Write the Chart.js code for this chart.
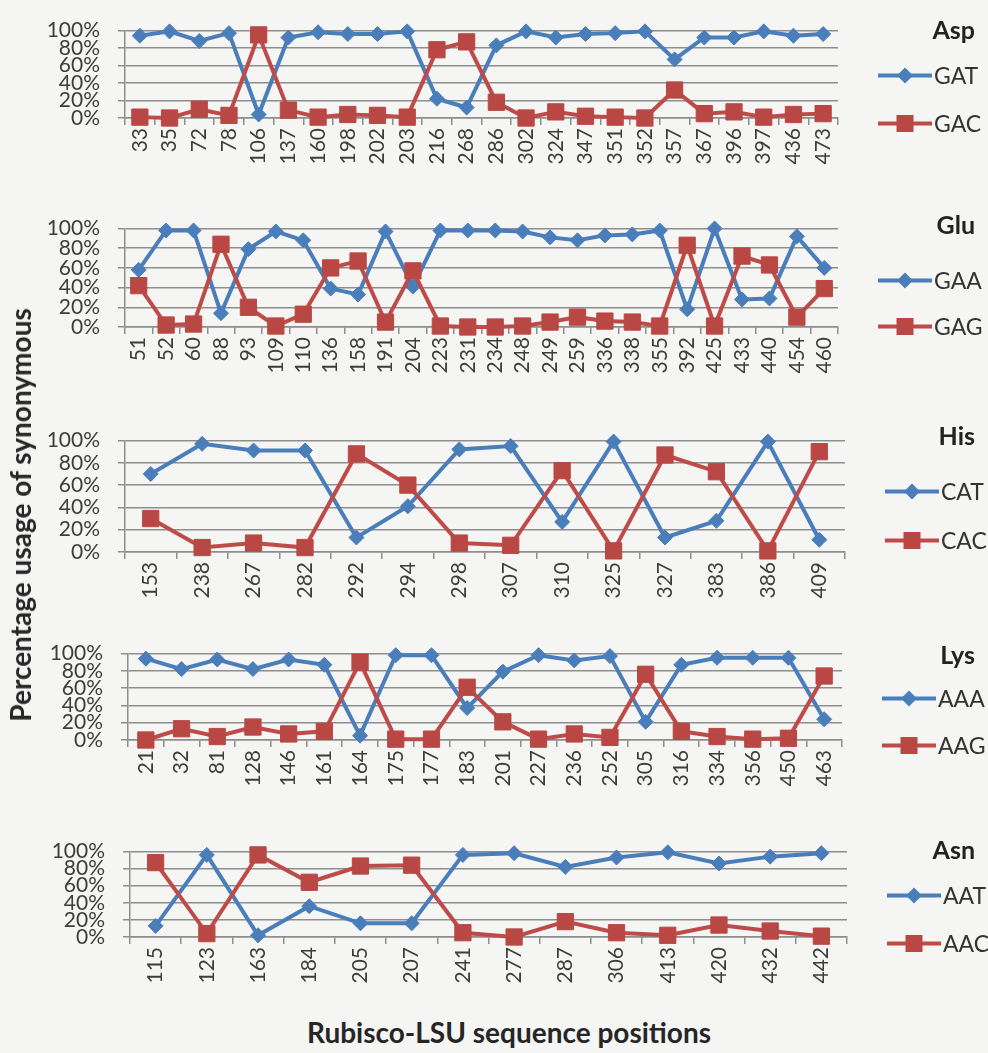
<!DOCTYPE html>
<html>
<head>
<meta charset="utf-8">
<script src="https://cdn.jsdelivr.net/npm/chart.js@4.4.1/dist/chart.umd.min.js"></script>
<style>
  html, body { margin: 0; padding: 0; background: #f5f5f4; }
  #page { position: relative; width: 988px; height: 1053px; overflow: hidden; background: #f5f5f4; }
  canvas { position: absolute; left: 0; }
  .axis-title { position: absolute; font-family: Lato, "Open Sans", sans-serif; font-weight: bold; font-size: 28px; color: #262626; white-space: nowrap; }
  #ytitle { left: 20px; top: 515px; transform: translate(-50%, -50%) rotate(-90deg); }
  #xtitle { left: 509px; top: 1032px; transform: translate(-50%, -50%); }
</style>
</head>
<body>
<div id="page">
  <canvas id="c-asp"></canvas>
  <canvas id="c-glu"></canvas>
  <canvas id="c-his"></canvas>
  <canvas id="c-lys"></canvas>
  <canvas id="c-asn"></canvas>
  <div class="axis-title" id="ytitle">Percentage usage of synonymous</div>
  <div class="axis-title" id="xtitle">Rubisco-LSU sequence positions</div>
</div>
<script>
// Rubisco-LSU residue positions and synonymous codon usage (%)
const aspPositions = ['33','35','72','78','106','137','160','198','202','203','216','268','286','302','324','347','351','352','357','367','396','397','436','473'];
const gatUsage = [94,99,88,97,4,92,98,96,96,99,22,12,83,99,92,96,97,99,67,92,92,99,94,96];
const gacUsage = [1,0,10,3,95,9,1,4,3,1,78,87,18,0,7,2,1,0,32,5,7,1,4,5];

const gluPositions = ['51','52','60','88','93','109','110','136','158','191','204','223','231','234','248','249','259','336','338','355','392','425','433','440','454','460'];
const gaaUsage = [58,98,98,14,79,97,88,39,33,97,41,98,98,98,97,91,88,93,94,98,18,100,28,29,92,60];
const gagUsage = [42,2,3,84,20,1,13,60,67,5,57,1,0,0,1,5,10,6,5,1,83,1,72,63,10,39];

const hisPositions = ['153','238','267','282','292','294','298','307','310','325','327','383','386','409'];
const catUsage = [70,97,91,91,13,41,92,95,27,99,13,28,99,11];
const cacUsage = [30,4,8,4,88,60,8,6,73,1,87,72,1,90];

const lysPositions = ['21','32','81','128','146','161','164','175','177','183','201','227','236','252','305','316','334','356','450','463'];
const aaaUsage = [94,82,93,82,93,87,5,98,98,37,79,98,92,97,21,87,95,95,95,24];
const aagUsage = [0,13,4,15,7,10,90,1,1,61,21,1,7,3,76,10,4,1,2,74];

const asnPositions = ['115','123','163','184','205','207','241','277','287','306','413','420','432','442'];
const aatUsage = [13,96,2,36,16,16,96,98,82,93,99,86,94,98];
const aacUsage = [87,4,96,64,83,84,5,0,18,5,2,14,7,1];

const percentTicks = [0, 20, 40, 60, 80, 100];

// Styling
const BLUE_LINE = '#4a7ebb', BLUE_FILL = '#4a7ebb';
const RED_LINE = '#be4b48', RED_FILL = '#b94845';
const GRID = '#8e8e8e';
const TICK_COLOR = '#3d3d3d';
const FONT_FAMILY = 'Lato, "Open Sans", sans-serif';

// Draws the per-panel legend (amino acid name + codon line/marker swatches)
const codonLegend = {
  id: 'codonLegend',
  afterDraw(chart, args, opts) {
    const { ctx, chartArea } = chart;
    ctx.save();
    ctx.textBaseline = 'middle';
    ctx.font = 'bold 25px ' + FONT_FAMILY;
    ctx.fillStyle = '#222';
    ctx.textAlign = 'right';
    ctx.fillText(opts.title, 975, chartArea.top + opts.rows[0]);
    ctx.font = '23px ' + FONT_FAMILY;
    ctx.textAlign = 'left';
    chart.data.datasets.forEach((ds, i) => {
      const y = chartArea.top + opts.rows[i + 1];
      const x0 = chartArea.right + 40;
      const x1 = x0 + 54;
      const xm = (x0 + x1) / 2;
      ctx.strokeStyle = ds.borderColor;
      ctx.lineWidth = 4;
      ctx.beginPath();
      ctx.moveTo(x0, y);
      ctx.lineTo(x1, y);
      ctx.stroke();
      ctx.fillStyle = ds.pointBackgroundColor;
      ctx.beginPath();
      if (ds.pointStyle === 'rectRot') {
        const r = 8;
        ctx.moveTo(xm - r, y); ctx.lineTo(xm, y - r); ctx.lineTo(xm + r, y); ctx.lineTo(xm, y + r);
      } else {
        const h = 8.5;
        ctx.rect(xm - h, y - h, 2 * h, 2 * h);
      }
      ctx.closePath();
      ctx.fill();
      ctx.fillStyle = '#333';
      ctx.fillText(ds.label, x1 + 2, y + 1);
    });
    ctx.restore();
  }
};

const panels = [
  { canvas: 'c-asp', title: 'Asp', labels: aspPositions, names: ['GAT', 'GAC'], values: [gatUsage, gacUsage],
    top: 22, bottom: 118, left: 125, right: 838, rows: [0, 45, 93] },
  { canvas: 'c-glu', title: 'Glu', labels: gluPositions, names: ['GAA', 'GAG'], values: [gaaUsage, gagUsage],
    top: 220, bottom: 327, left: 125, right: 838, rows: [-3, 52, 98] },
  { canvas: 'c-his', title: 'His', labels: hisPositions, names: ['CAT', 'CAC'], values: [catUsage, cacUsage],
    top: 432, bottom: 552, left: 125, right: 845, rows: [-4, 51, 100] },
  { canvas: 'c-lys', title: 'Lys', labels: lysPositions, names: ['AAA', 'AAG'], values: [aaaUsage, aagUsage],
    top: 645, bottom: 740, left: 128, right: 842, rows: [2, 45, 92] },
  { canvas: 'c-asn', title: 'Asn', labels: asnPositions, names: ['AAT', 'AAC'], values: [aatUsage, aacUsage],
    top: 843, bottom: 937, left: 130, right: 847, rows: [-1, 44, 92] }
];

const PAD_TOP = 20;
const X_AXIS_H = 62;

panels.forEach(p => {
  const cv = document.getElementById(p.canvas);
  const canvasTop = p.top - PAD_TOP;
  cv.width = 988;
  cv.height = (p.bottom - canvasTop) + X_AXIS_H;
  cv.style.top = canvasTop + 'px';
  cv.style.width = '988px';
  cv.style.height = cv.height + 'px';

  new Chart(cv.getContext('2d'), {
    type: 'line',
    data: {
      labels: p.labels,
      datasets: [
        { label: p.names[0], data: p.values[0], borderColor: BLUE_LINE, backgroundColor: BLUE_FILL,
          pointStyle: 'rectRot', pointRadius: 7.5, pointBorderWidth: 1,
          pointBackgroundColor: BLUE_FILL, pointBorderColor: BLUE_FILL,
          borderWidth: 4, tension: 0, order: 1, clip: false },
        { label: p.names[1], data: p.values[1], borderColor: RED_LINE, backgroundColor: RED_FILL,
          pointStyle: 'rect', pointRadius: 11.5, pointBorderWidth: 1,
          pointBackgroundColor: RED_FILL, pointBorderColor: RED_FILL,
          borderWidth: 4, tension: 0, order: 0, clip: false }
      ]
    },
    options: {
      responsive: false,
      animation: false,
      devicePixelRatio: 1,
      layout: { padding: { top: PAD_TOP, right: 988 - p.right, bottom: 0, left: 0 } },
      plugins: {
        legend: { display: false },
        tooltip: { enabled: false },
        codonLegend: { title: p.title, rows: p.rows }
      },
      scales: {
        x: {
          offset: true,
          grid: { offset: true, drawOnChartArea: false, drawTicks: true, tickLength: 7, color: GRID, lineWidth: 1.5 },
          border: { display: true, color: GRID, width: 1.5 },
          ticks: { autoSkip: false, maxRotation: 90, minRotation: 90, padding: 3, color: TICK_COLOR,
                   font: { family: FONT_FAMILY, size: 21 } },
          afterFit: s => { s.height = X_AXIS_H; }
        },
        y: {
          min: percentTicks[0],
          max: percentTicks[percentTicks.length - 1],
          afterBuildTicks: s => { s.ticks = percentTicks.map(v => ({ value: v })); },
          grid: { color: GRID, lineWidth: 1.5, drawTicks: true, tickLength: 7 },
          border: { display: true, color: GRID, width: 1.5 },
          ticks: { autoSkip: false, padding: 18, color: TICK_COLOR, callback: v => v + '%',
                   font: { family: FONT_FAMILY, size: 21, lineHeight: 1 } },
          afterFit: s => { s.width = p.left; }
        }
      }
    },
    plugins: [codonLegend]
  });
});
</script>
</body>
</html>
